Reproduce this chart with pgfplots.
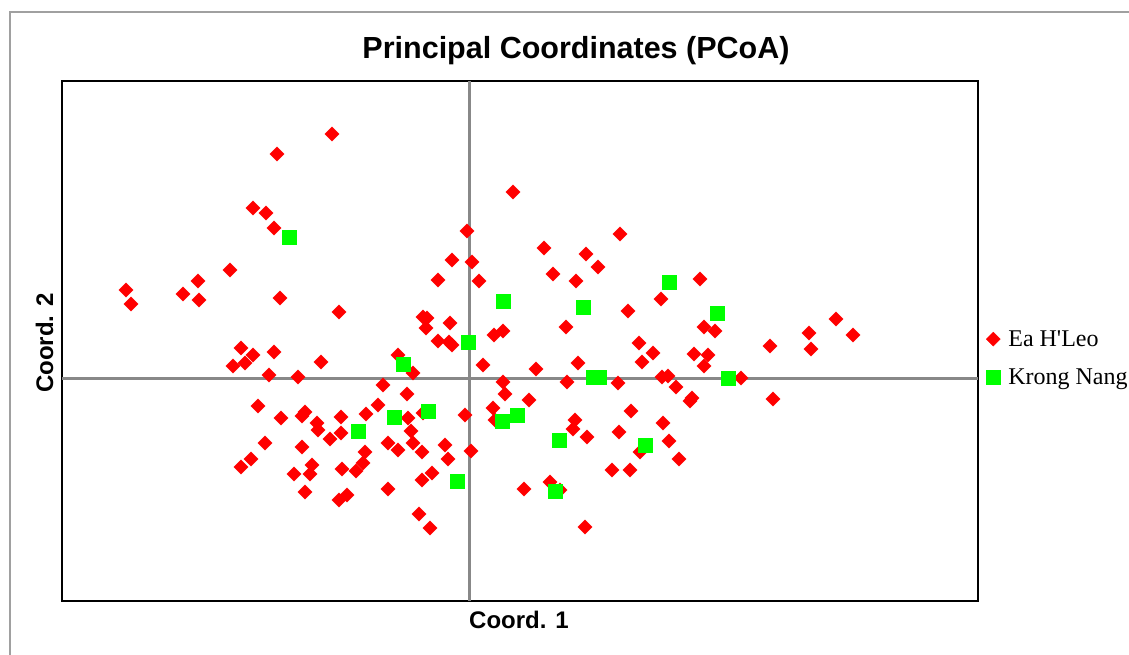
\documentclass[border=0pt]{standalone}
\usepackage{fontspec}
\setmainfont{Liberation Serif}
\newfontfamily\arial{Liberation Sans}
\usepackage{pgfplots}
\pgfplotsset{compat=1.18}
\definecolor{ptred}{RGB}{255,0,0}
\definecolor{ptgreen}{RGB}{0,255,0}
\definecolor{zerogray}{RGB}{136,136,136}
\definecolor{framegray}{RGB}{160,160,160}
\begin{document}
\begin{tikzpicture}
\useasboundingbox (0,0) rectangle (1129bp,-655bp);
\draw[framegray, line width=2bp] (10bp,-660bp) -- (10bp,-12bp) -- (1135bp,-12bp);
\node[anchor=base, font=\arial\bfseries\fontsize{30.5bp}{36bp}\selectfont] at (576bp,-58bp) {Principal Coordinates (PCoA)};
\node[anchor=base, font=\arial\bfseries\fontsize{24bp}{29bp}\selectfont] at (519bp,-628bp) {Coord. 1};
\node[anchor=base, rotate=90, font=\arial\bfseries\fontsize{24bp}{29bp}\selectfont] at (53bp,-343bp) {Coord. 2};
\begin{axis}[
  at={(62bp,-601bp)}, anchor=south west,
  width=916bp, height=520bp, scale only axis,
  xmin=-407, xmax=509, ymin=-223, ymax=297,
  xtick=\empty, ytick=\empty,
  extra x ticks={0}, extra y ticks={0},
  extra x tick labels={}, extra y tick labels={},
  extra tick style={grid=major, major tick length=0pt,
    major grid style={zerogray, line width=3bp}},
  axis line style={black, line width=2.5bp},
  clip=false,
  legend style={at={(1,0.467)}, anchor=west, xshift=8bp, draw=none, fill=none,
    font=\fontsize{24bp}{28bp}\selectfont, row sep=17bp, inner sep=0pt,
    cells={anchor=west},
    /tikz/every odd column/.append style={column sep=6bp}},
  legend image code/.code={\draw[#1] plot coordinates {(0bp,0bp)};},
  legend cell align=left,
]
\addplot[only marks, mark=square*, mark size=5bp,
  mark options={rotate=45, fill=ptred, draw=ptred, line width=0.3bp}]
coordinates {
(-137,244) (-192,224) (-216,170) (-203,165) (-195,150) (-239,108)
(-343,88) (-338,74) (-286,84) (-271,97) (-270,78) (-189,80) (-130,66)
(44,186) (-2,147) (-17,118) (3,116) (-31,98) (10,97) (75,130) (117,124)
(129,111) (84,104) (107,97) (97,51) (-46,61) (-42,60) (-43,50) (-19,55)
(25,43) (34,47) (-31,37) (-20,36) (-17,33) (151,144) (231,99) (192,79)
(159,67) (235,51) (246,47) (170,35) (340,45) (367,59) (384,43) (301,32)
(342,29) (184,25) (173,16) (225,24) (239,23) (235,12)
(-228,30) (-216,23) (-224,15) (-236,12) (-195,26) (-148,16) (-200,3)
(-171,1) (-211,-28) (-188,-40) (-164,-34) (-167,-38) (-152,-45)
(-151,-52) (-139,-61) (-128,-39) (-204,-65) (-167,-69) (-218,-81)
(-228,-89) (-175,-96) (-157,-87) (-159,-96) (-164,-114) (-130,-122)
(-122,-117) (-127,-91) (-71,23) (-56,5) (14,13) (67,9) (109,15)
(-86,-7) (-62,-16) (34,-4) (36,-16) (60,-22) (98,-4) (-91,-27)
(-103,-36) (-61,-40) (-46,-35) (-4,-37) (24,-30) (26,-42) (-128,-55)
(-58,-53) (-56,-65) (-81,-65) (-71,-72) (-47,-74) (-24,-67) (2,-73)
(-21,-81) (-104,-74) (-106,-85) (-113,-93) (-37,-95) (-47,-102)
(-81,-111) (-50,-136) (-39,-150) (106,-42) (104,-51) (118,-59)
(81,-104) (91,-112) (55,-111) (116,-149) (143,-92) (149,-5) (193,1)
(199,2) (207,-9) (272,0) (223,-20) (221,-23) (304,-21) (162,-33)
(194,-45) (150,-54) (200,-63) (171,-74) (210,-81) (161,-92)
};
\addlegendentry{Ea H\textquotesingle Leo}
\addplot[only marks, mark=square*, mark size=7bp,
  mark options={fill=ptgreen, draw=ptgreen, line width=0.3bp}]
coordinates {
(-180,141) (34,77) (114,71) (200,96) (248,65) (-1,36) (-66,14)
(124,1) (130,1) (259,0) (-75,-39) (-41,-33) (-111,-53) (33,-43)
(48,-37) (90,-62) (176,-67) (-12,-103) (86,-113)
};
\addlegendentry{Krong Nang}
\end{axis}
\end{tikzpicture}
\end{document}
